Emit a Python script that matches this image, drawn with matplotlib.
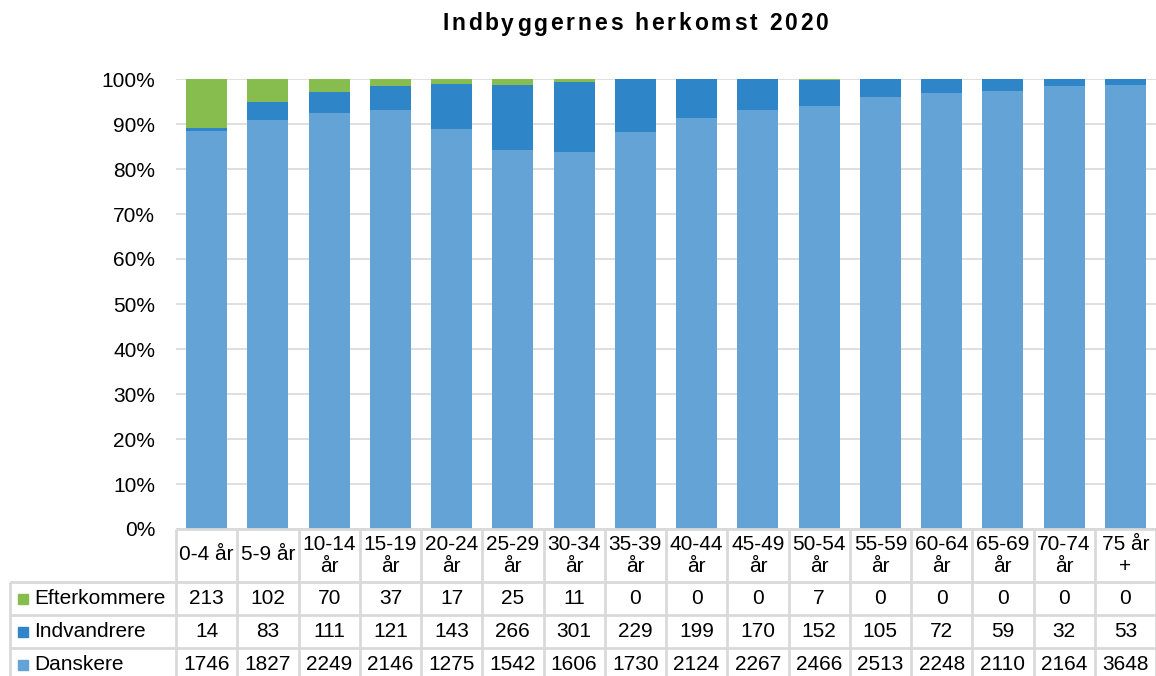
import matplotlib.pyplot as plt
import numpy as np
from matplotlib.ticker import PercentFormatter

plt.rcParams['font.family'] = ['Liberation Sans', 'DejaVu Sans']

# aldersgrupper og antal
grupper = ['0-4 år', '5-9 år', '10-14\når', '15-19\når', '20-24\når', '25-29\når', '30-34\når',
           '35-39\når', '40-44\når', '45-49\når', '50-54\når', '55-59\når', '60-64\når',
           '65-69\når', '70-74\når', '75 år\n+']
efterkommere = [213, 102, 70, 37, 17, 25, 11, 0, 0, 0, 7, 0, 0, 0, 0, 0]
indvandrere = [14, 83, 111, 121, 143, 266, 301, 229, 199, 170, 152, 105, 72, 59, 32, 53]
danskere = [1746, 1827, 2249, 2146, 1275, 1542, 1606, 1730, 2124, 2267, 2466, 2513, 2248, 2110, 2164, 3648]
titel = 'Indbyggernes herkomst 2020'

c_dan = '#63A3D6'
c_ind = '#2E86C8'
c_eft = '#86BD4E'
grid_c = '#D9D9D9'
fs = 15

W, H = 1156, 676
fig = plt.figure(figsize=(W / 100, H / 100), dpi=100)

left, right, top, bottom = 176, 1156, 79, 529
ax = fig.add_axes([left / W, 1 - bottom / H, (right - left) / W, (bottom - top) / H])

e = np.array(efterkommere, float)
i_ = np.array(indvandrere, float)
d = np.array(danskere, float)
tot = e + i_ + d
x = np.arange(len(grupper))

ax.bar(x, d / tot, width=0.67, color=c_dan, zorder=2)
ax.bar(x, i_ / tot, bottom=d / tot, width=0.67, color=c_ind, zorder=2)
ax.bar(x, e / tot, bottom=(d + i_) / tot, width=0.67, color=c_eft, zorder=2)

ax.set_xlim(-0.5, len(grupper) - 0.5)
ax.set_ylim(0, 1)
ax.set_yticks(np.arange(0, 1.01, 0.1))
ax.yaxis.set_major_formatter(PercentFormatter(1.0, decimals=0))
ax.tick_params(axis='y', length=0, pad=15, labelsize=fs)
ax.set_xticks([])
ax.yaxis.grid(True, color=grid_c, lw=1.2, zorder=0)
for s in ax.spines.values():
    s.set_visible(False)

# tabel under grafen (pixel-koordinater)
tax = fig.add_axes([0, 0, 1, 1])
tax.set_xlim(0, W)
tax.set_ylim(H, 0)
tax.axis('off')

# titel med ekstra tegnafstand
renderer = fig.canvas.get_renderer()
tfs = 16.5
t_start, t_end = 442, 828


def bredde(s):
    t = tax.text(0, 0, s.replace(' ', '\u00a0') + '|', fontsize=tfs, fontweight='bold')
    w = t.get_window_extent(renderer).width
    t.remove()
    return w


bar_w = bredde('')
naturlig = bredde(titel) - bar_w
ekstra = (t_end - t_start - naturlig) / (len(titel) - 1)
for k, ch in enumerate(titel):
    if ch == ' ':
        continue
    xpos = t_start + (bredde(titel[:k]) - bar_w if k else 0) + k * ekstra
    tax.text(xpos, 24, ch, fontsize=tfs, fontweight='bold', ha='left', va='center')

colw = (right - left) / len(grupper)
rows_y = [529, 582, 615, 648, 681]
lc = dict(color=grid_c, lw=2, solid_capstyle='butt')

tax.plot([left, right], [rows_y[0], rows_y[0]], **lc)
for yy in rows_y[1:4]:
    tax.plot([10, right], [yy, yy], **lc)
tax.plot([10, 10], [rows_y[1], H], **lc)
for k in range(len(grupper) + 1):
    xx = left + k * colw
    tax.plot([xx, xx], [rows_y[0], H], **lc)

for k, g in enumerate(grupper):
    cx = left + (k + 0.5) * colw
    linjer = g.split('\n')
    if len(linjer) == 1:
        tax.text(cx, 555, linjer[0], ha='center', va='center', fontsize=fs)
    else:
        tax.text(cx, 545, linjer[0], ha='center', va='center', fontsize=fs)
        tax.text(cx, 567, linjer[1], ha='center', va='center', fontsize=fs)

serier = [('Efterkommere', efterkommere, c_eft),
          ('Indvandrere', indvandrere, c_ind),
          ('Danskere', danskere, c_dan)]
for r, (navn, vals, col) in enumerate(serier):
    cy = (rows_y[r + 1] + rows_y[r + 2]) / 2
    if r == 2:
        cy = 665
    tax.add_patch(plt.Rectangle((18, cy - 5), 10, 10, color=col))
    tax.text(34, cy, navn, ha='left', va='center', fontsize=fs)
    for k, v in enumerate(vals):
        cx = left + (k + 0.5) * colw
        tax.text(cx, cy, str(v), ha='center', va='center', fontsize=fs)

fig.savefig('out.png', dpi=100)
